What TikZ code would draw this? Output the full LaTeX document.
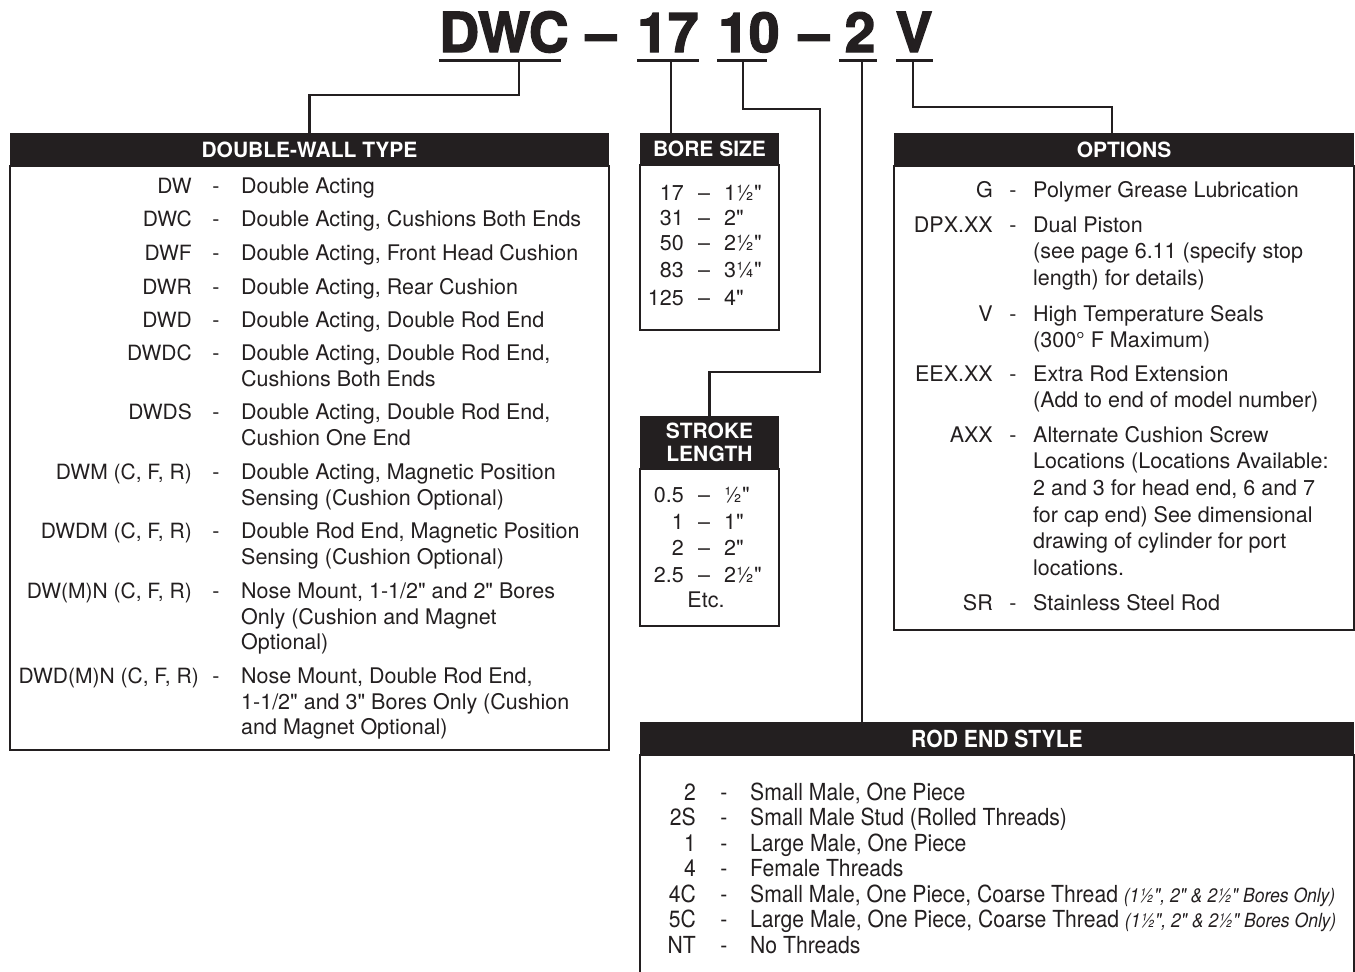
\documentclass[tikz,border=0pt]{standalone}
\usepackage{fontspec}
\setmainfont{TeX Gyre Heros}[Ligatures=TeXOff]
\newfontfamily\condfont{TeX Gyre Heros}[Ligatures=TeXOff, FakeStretch=0.9]
\newfontfamily\titlefont{TeX Gyre Heros}[Ligatures=TeXOff, FakeBold=2.5]
\usetikzlibrary{positioning}
\definecolor{ink}{HTML}{231F20}
\newcommand{\bnote}[1]{{\fontsize{19.5}{22}\selectfont\itshape #1}}

\begin{document}
\begin{tikzpicture}[
    x=1pt, y=-1pt,
    font=\fontsize{21.5}{25.5}\selectfont,
    every node/.style={text=ink},
    title/.style={anchor=base, inner sep=0pt, font=\titlefont\bfseries\fontsize{55}{60}\selectfont},
    uline/.style={fill=ink, minimum height=3pt, inner sep=0pt, outer sep=0pt},
    link/.style={draw=ink, line width=2.4pt},
    head/.style={anchor=north west, fill=ink, text=white, inner sep=0pt, outer sep=0pt,
      align=center, font=\bfseries\fontsize{21}{23}\selectfont},
    panel/.style={draw=ink, line width=2pt, inner sep=0pt, outer sep=0pt, below=0pt of #1},
    code/.style={anchor=north east, inner sep=0pt, yshift=10.5pt},
    hyph/.style={anchor=north, inner sep=0pt, yshift=10.5pt},
    desc/.style={anchor=north west, inner sep=0pt, align=left, yshift=10.5pt}
  ]
    \useasboundingbox (0,0) rectangle (1355,972);

    % model number
    \node[title] (t-dwc) at (504,52) {DWC};
    \node[title] (t-d1)  at (601,52) {–};
    \node[title] (t-17)  at (668,52) {17};
    \node[title] (t-10)  at (749,52) {10};
    \node[title] (t-d2)  at (814,52) {–};
    \node[title] (t-2)   at (860,52) {2};
    \node[title] (t-v)   at (914,52) {V};
    \node[uline, minimum width=122pt] (u-dwc) at (500,60) {};
    \node[uline, minimum width=62pt]  (u-17)  at (668,60) {};
    \node[uline, minimum width=50pt]  (u-10)  at (742,60) {};
    \node[uline, minimum width=38pt]  (u-2)   at (858,60) {};
    \node[uline, minimum width=37pt]  (u-v)   at (914.5,60) {};
    \coordinate (tap-dwc) at (519,60);
    \coordinate (tap-17)  at (671,60);
    \coordinate (tap-10)  at (743,60);
    \coordinate (tap-2)   at (862,60);
    \coordinate (tap-v)   at (913,60);

    % headers and panels
    \node[head, minimum width=599pt, minimum height=33pt] (dw-head) at (10,133) {DOUBLE-WALL TYPE};
    \node[head, minimum width=139pt, minimum height=32pt] (bore-head) at (640,133) {BORE SIZE};
    \node[head, minimum width=139pt, minimum height=53pt] (stroke-head) at (640,416) {STROKE\\LENGTH};
    \node[head, minimum width=460pt, minimum height=33pt] (opt-head) at (894,133) {OPTIONS};
    \node[head, minimum width=714pt, minimum height=33pt] (rod-head) at (640,722) {\condfont\bfseries\fontsize{23.5}{25}\selectfont ROD END STYLE};
    \node[panel=dw-head, minimum width=599pt, minimum height=584pt] (dw-body) {};
    \node[panel=bore-head, minimum width=139pt, minimum height=165pt] (bore-body) {};
    \node[panel=stroke-head, minimum width=139pt, minimum height=157pt] (stroke-body) {};
    \node[panel=opt-head, minimum width=460pt, minimum height=464pt] (opt-body) {};
    \node[panel=rod-head, minimum width=714pt, minimum height=260pt] (rod-body) {};

    % connectors
    \draw[link] (tap-dwc) -- ++(0,35) -| (dw-head.north);
    \draw[link] (tap-17) -- (tap-17 |- bore-head.north);
    \draw[link] (tap-10) -- ++(0,49) -| ++(77,263) -| (stroke-head.north);
    \draw[link] (tap-2) -- (tap-2 |- rod-head.north);
    \draw[link] (tap-v) -- ++(0,47) -| ([xshift=-12pt]opt-head.north);

    % double-wall type
    \foreach \y/\c/\d [count=\i] in {
        186/DW/{Double Acting},
        219/DWC/{Double Acting, Cushions Both Ends},
        253/DWF/{Double Acting, Front Head Cushion},
        287/DWR/{Double Acting, Rear Cushion},
        320/DWD/{Double Acting, Double Rod End},
        353/DWDC/{Double Acting, Double Rod End,\\Cushions Both Ends},
        412/DWDS/{Double Acting, Double Rod End,\\Cushion One End},
        472/{DWM (C, F, R)}/{Double Acting, Magnetic Position\\Sensing (Cushion Optional)},
        531/{DWDM (C, F, R)}/{Double Rod End, Magnetic Position\\Sensing (Cushion Optional)},
        591/{DW(M)N (C, F, R)}/{Nose Mount, 1-1/2" and 2" Bores\\Only (Cushion and Magnet\\Optional)}}{
      \node[code, font=\fontsize{21}{25.5}\selectfont] (dw-c\i) at (192,\y) {\strut\c};
      \node[hyph] (dw-h\i) at (216,\y) {\strut-};
      \node[desc] (dw-d\i) at (241,\y) {\strut\d};
    }
    \node[code, font=\fontsize{21}{25.5}\selectfont] (dw-c11) at (199,676) {\strut DWD(M)N (C, F, R)};
    \node[hyph] (dw-h11) at (216,676) {\strut-};
    \node[desc] (dw-d11) at (241,676) {\strut Nose Mount, Double Rod End,\\1-1/2" and 3" Bores Only (Cushion\\and Magnet Optional)};

    % bore size
    \foreach \y/\c/\d [count=\i] in {193/17/1½", 218/31/2", 243/50/2½", 270/83/3¼", 298/125/4"}{
      \node[code] (bore-c\i) at (684,\y) {\strut\c};
      \node[hyph] (bore-h\i) at (704,\y) {\strut–};
      \node[desc] (bore-d\i) at (724,\y) {\strut\d};
    }

    % stroke length
    \foreach \y/\c/\d [count=\i] in {495/0.5/½", 522/1/1", 548/2/2", 575/2.5/2½"}{
      \node[code] (stroke-c\i) at (684,\y) {\strut\c};
      \node[hyph] (stroke-h\i) at (704,\y) {\strut–};
      \node[desc] (stroke-d\i) at (724,\y) {\strut\d};
    }
    \node[hyph] (stroke-etc) at (706,600) {\strut Etc.};

    % options
    \begin{scope}[font=\fontsize{21.5}{26.6}\selectfont]
      \foreach \y/\c/\d [count=\i] in {
          189/G/{Polymer Grease Lubrication},
          224/DPX.XX/{Dual Piston\\(see page 6.11 (specify stop\\length) for details)},
          313/V/{High Temperature Seals\\(300° F Maximum)},
          373/EEX.XX/{Extra Rod Extension\\(Add to end of model number)},
          434/AXX/{Alternate Cushion Screw\\Locations (Locations Available:\\2 and 3 for head end, 6 and 7\\for cap end) See dimensional\\drawing of cylinder for port\\locations.},
          602/SR/{Stainless Steel Rod}}{
        \node[code] (opt-c\i) at (993,\y) {\strut\c};
        \node[hyph] (opt-h\i) at (1013,\y) {\strut-};
        \node[desc] (opt-d\i) at (1033,\y) {\strut\d};
      }
    \end{scope}

    % rod end style
    \begin{scope}[font=\condfont\fontsize{23.5}{25.5}\selectfont]
      \foreach \y/\c/\d [count=\i] in {
          793/2/{Small Male, One Piece},
          818/2S/{Small Male Stud (Rolled Threads)},
          844/1/{Large Male, One Piece},
          869/4/{Female Threads},
          895/4C/{Small Male, One Piece, Coarse Thread \bnote{(1½", 2" \& 2½" Bores Only)}},
          920/5C/{Large Male, One Piece, Coarse Thread \bnote{(1½", 2" \& 2½" Bores Only)}},
          946/NT/{No Threads}}{
        \node[code] (rod-c\i) at (696,\y) {\strut\c};
        \node[hyph] (rod-h\i) at (724,\y) {\strut-};
        \node[desc] (rod-d\i) at (750,\y) {\strut\d};
      }
    \end{scope}
  \end{tikzpicture}
\end{document}
